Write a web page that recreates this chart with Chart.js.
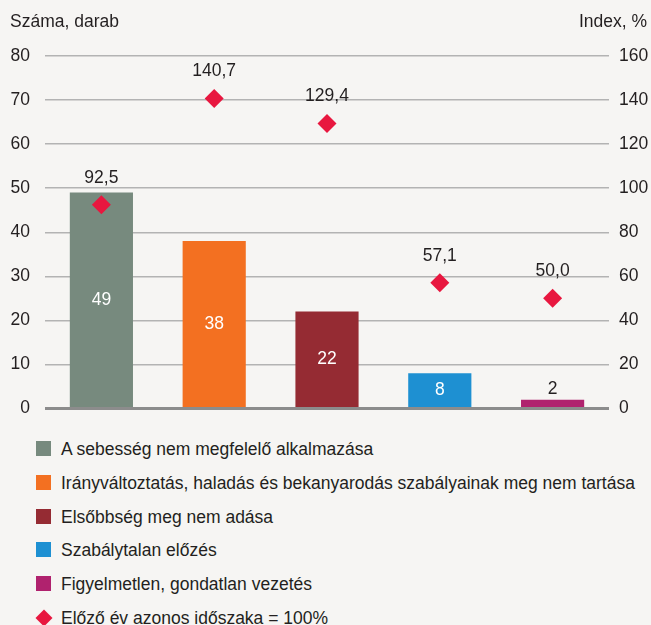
<!DOCTYPE html>
<html><head><meta charset="utf-8">
<script src="https://cdn.jsdelivr.net/npm/chart.js@4.4.0/dist/chart.umd.min.js"></script>
<style>
html,body{margin:0;padding:0;background:#f6f5f3;}
#wrap{position:relative;width:651px;height:625px;overflow:hidden;background:#f6f5f3;}
#c{position:absolute;left:0;top:0;}
.li{position:absolute;left:0;height:20px;line-height:20px;color:#231f20;white-space:nowrap;}
.sw{position:absolute;left:36px;top:2px;width:15px;height:15px;}
.dm{position:absolute;left:38px;top:4px;width:12px;height:12px;transform:rotate(45deg);background:#e8173f;}
.tx{position:absolute;left:61px;top:0;}
</style></head><body>
<div id="wrap"><canvas id="c"></canvas><div id="legend"></div></div>
<script>
const categories = [
  "A sebesség nem megfelelő alkalmazása",
  "Irányváltoztatás, haladás és bekanyarodás szabályainak meg nem tartása",
  "Elsőbbség meg nem adása",
  "Szabálytalan előzés",
  "Figyelmetlen, gondatlan vezetés"
];
const counts = [49, 38, 22, 8, 2];
const indexValues = [92.5, 140.7, 129.4, 57.1, 50.0];
const indexLabel = "Előző év azonos időszaka = 100%";
const leftAxisTitle = "Száma, darab";
const rightAxisTitle = "Index, %";
const leftMax = 80, leftStep = 10;
const rightMax = 160, rightStep = 20;
const barColors = ["#778a7e", "#f37021", "#952b33", "#1e90d2", "#b0226e"];
const diamondColor = "#e8173f";

const FONT = "'Liberation Sans', Arial, sans-serif";
const FS = 17.5;
const TXT = "#231f20";

const W = 651, H = 434, TOP = 56, LEFT = 45, RIGHT = 609;
const cv = document.getElementById('c');
cv.width = W; cv.height = H; cv.style.width = W+'px'; cv.style.height = H+'px';

const fmt = v => v.toFixed(1).replace('.', ',');

const labelsPlugin = {
  id: 'labelsPlugin',
  afterDatasetsDraw(chart) {
    const ctx = chart.ctx;
    ctx.save();
    const ys = chart.scales.y;
    const y0 = ys.getPixelForValue(0);
    ctx.strokeStyle = '#8c8c8c';
    ctx.lineWidth = 3;
    ctx.beginPath();
    ctx.moveTo(chart.chartArea.left, y0);
    ctx.lineTo(chart.chartArea.right, y0);
    ctx.stroke();

    ctx.font = FS + "px " + FONT;
    ctx.textAlign = 'center';
    ctx.textBaseline = 'middle';
    const barMeta = chart.getDatasetMeta(0);
    barMeta.data.forEach((el, i) => {
      const v = counts[i];
      const h = el.base - el.y;
      if (h > 28) {
        ctx.fillStyle = '#ffffff';
        ctx.fillText(String(v), el.x, (el.y + el.base) / 2);
      } else {
        ctx.fillStyle = TXT;
        ctx.fillText(String(v), el.x, el.y - 11);
      }
    });
    const ptMeta = chart.getDatasetMeta(1);
    ptMeta.data.forEach((el, i) => {
      ctx.fillStyle = TXT;
      ctx.fillText(fmt(indexValues[i]), el.x, el.y - 27);
    });
    ctx.fillStyle = TXT;
    ctx.textAlign = 'left';
    ctx.fillText(leftAxisTitle, 10, 22);
    ctx.textAlign = 'right';
    ctx.fillText(rightAxisTitle, 647, 22);
    ctx.restore();
  }
};

new Chart(cv, {
  type: 'bar',
  data: {
    labels: categories,
    datasets: [
      {
        type: 'bar',
        data: counts,
        backgroundColor: barColors,
        yAxisID: 'y',
        categoryPercentage: 1,
        barPercentage: 0.56,
        order: 2
      },
      {
        type: 'line',
        data: indexValues,
        yAxisID: 'y1',
        showLine: false,
        pointStyle: 'rectRot',
        pointRadius: 9.5,
        pointHoverRadius: 9.5,
        pointBackgroundColor: diamondColor,
        pointBorderWidth: 0,
        borderWidth: 0,
        order: 1
      }
    ]
  },
  options: {
    responsive: false,
    animation: false,
    events: [],
    layout: { padding: { top: TOP, bottom: 7, left: 0, right: 0 } },
    plugins: { legend: { display: false }, tooltip: { enabled: false } },
    scales: {
      x: { display: false },
      y: {
        position: 'left',
        min: 0, max: leftMax,
        ticks: { stepSize: leftStep, padding: 15, color: TXT, font: { family: FONT, size: FS } },
        grid: { color: '#b3b3b3', lineWidth: 1.5, drawTicks: false },
        border: { display: false },
        afterFit(s) { s.width = LEFT; }
      },
      y1: {
        position: 'right',
        min: 0, max: rightMax,
        ticks: { stepSize: rightStep, padding: 10, color: TXT, font: { family: FONT, size: FS } },
        grid: { display: false, drawTicks: false },
        border: { display: false },
        afterFit(s) { s.width = W - RIGHT; }
      }
    }
  },
  plugins: [labelsPlugin]
});

const lg = document.getElementById('legend');
categories.forEach((c, i) => {
  const d = document.createElement('div');
  d.className = 'li';
  d.style.top = (439 + i * 33.8) + 'px';
  d.style.font = FS + "px " + FONT;
  d.innerHTML = '<div class="sw" style="background:' + barColors[i] + '"></div><div class="tx"></div>';
  d.querySelector('.tx').textContent = c;
  lg.appendChild(d);
});
const d = document.createElement('div');
d.className = 'li';
d.style.top = (439 + 5 * 33.8) + 'px';
d.style.font = FS + "px " + FONT;
d.innerHTML = '<div class="dm"></div><div class="tx"></div>';
d.querySelector('.tx').textContent = indexLabel;
lg.appendChild(d);
</script>
</body></html>
